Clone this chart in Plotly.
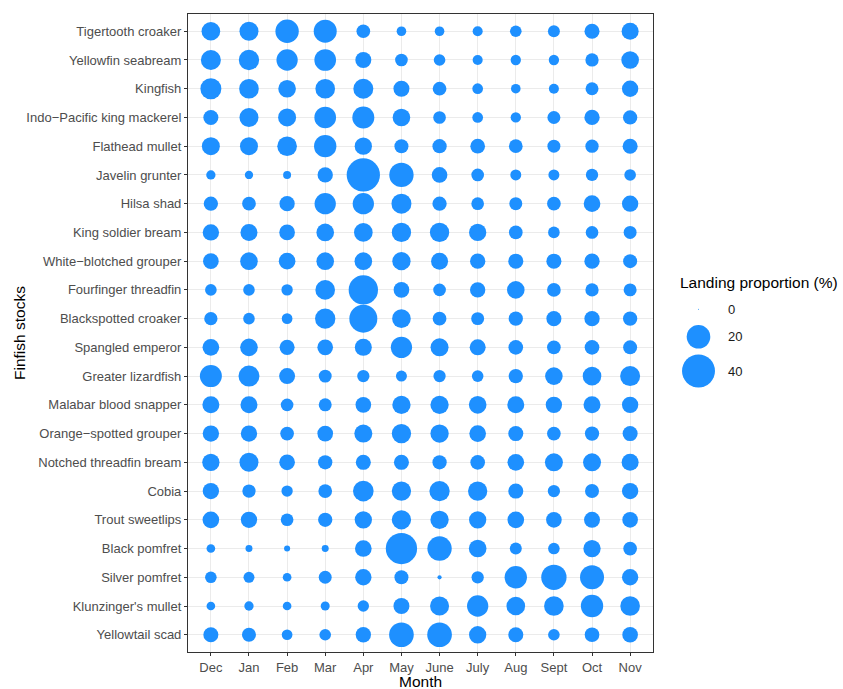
import math
import plotly.graph_objects as go

months = ["Dec", "Jan", "Feb", "Mar", "Apr", "May", "June", "July", "Aug", "Sept", "Oct", "Nov"]

species = [
    "Tigertooth croaker", "Yellowfin seabream", "Kingfish", "Indo−Pacific king mackerel",
    "Flathead mullet", "Javelin grunter", "Hilsa shad", "King soldier bream",
    "White−blotched grouper", "Fourfinger threadfin", "Blackspotted croaker", "Spangled emperor",
    "Greater lizardfish", "Malabar blood snapper", "Orange−spotted grouper", "Notched threadfin bream",
    "Cobia", "Trout sweetlips", "Black pomfret", "Silver pomfret", "Klunzinger's mullet", "Yellowtail scad",
]

tigertooth_croaker = [12.2, 12.7, 19.5, 18.9, 6.3, 2.9, 2.9, 3.2, 4.4, 4.7, 7.7, 10.0]
yellowfin_seabream = [14.1, 14.6, 16.1, 16.7, 8.8, 5.3, 4.4, 3.2, 3.4, 3.4, 5.9, 10.8]
kingfish = [15.6, 13.6, 10.8, 13.6, 14.1, 8.8, 6.3, 3.7, 2.9, 3.2, 5.6, 9.2]
indo_pacific_king_mackerel = [7.7, 12.7, 11.3, 16.7, 17.2, 10.8, 5.3, 3.7, 3.4, 5.6, 8.0, 6.9]
flathead_mullet = [11.3, 11.3, 13.6, 17.8, 10.4, 6.6, 6.9, 7.3, 6.3, 5.6, 5.9, 7.7]
javelin_grunter = [2.7, 2.1, 1.9, 8.0, 40.8, 21.3, 8.4, 5.3, 3.9, 3.9, 5.0, 4.4]
hilsa_shad = [6.9, 6.3, 8.0, 16.1, 16.1, 14.1, 6.9, 5.3, 5.6, 6.3, 9.6, 9.2]
king_soldier_bream = [9.2, 10.0, 8.4, 10.8, 12.2, 13.1, 13.1, 10.4, 6.3, 4.4, 5.3, 5.6]
white_blotched_grouper = [8.4, 10.8, 9.6, 10.8, 10.8, 11.7, 10.0, 8.0, 7.7, 7.7, 8.0, 6.6]
fourfinger_threadfin = [4.4, 4.4, 4.2, 13.6, 31.4, 8.4, 5.3, 8.0, 10.8, 6.3, 5.9, 5.6]
blackspotted_croaker = [5.9, 4.4, 3.7, 14.6, 28.5, 12.2, 6.3, 5.6, 6.9, 7.7, 8.0, 6.9]
spangled_emperor = [9.6, 10.8, 7.7, 8.4, 10.0, 16.1, 11.3, 8.8, 7.3, 6.3, 7.3, 6.6]
greater_lizardfish = [17.2, 15.6, 8.8, 5.6, 5.0, 3.9, 5.0, 4.4, 6.9, 10.8, 12.2, 14.1]
malabar_blood_snapper = [10.0, 10.0, 5.3, 5.6, 8.4, 11.7, 11.7, 10.8, 10.0, 9.2, 10.0, 9.2]
orange_spotted_grouper = [9.2, 9.2, 6.3, 8.4, 11.3, 13.1, 11.7, 9.6, 7.7, 6.3, 6.9, 7.7]
notched_threadfin_bream = [10.4, 12.7, 8.4, 6.9, 7.7, 7.7, 6.9, 7.3, 9.6, 11.3, 11.3, 10.0]
cobia = [9.2, 5.9, 4.2, 6.3, 15.1, 13.1, 14.6, 13.1, 7.7, 5.0, 6.6, 9.2]
trout_sweetlips = [9.6, 9.2, 5.3, 6.9, 10.4, 13.1, 11.7, 10.4, 9.6, 8.4, 8.8, 8.4]
black_pomfret = [2.3, 1.4, 1.0, 1.4, 9.6, 35.9, 21.3, 10.8, 4.7, 4.4, 10.4, 6.3]
silver_pomfret = [4.4, 3.9, 2.3, 5.6, 9.2, 6.6, 0.4, 5.0, 17.8, 23.1, 20.7, 9.2]
klunzingers_mullet = [2.3, 2.7, 2.3, 2.5, 4.2, 8.8, 12.7, 16.1, 12.2, 13.6, 17.8, 13.6]
yellowtail_scad = [7.7, 6.6, 3.7, 4.4, 8.0, 21.9, 21.9, 10.4, 7.7, 4.4, 7.3, 8.4]

series = [
    tigertooth_croaker, yellowfin_seabream, kingfish, indo_pacific_king_mackerel,
    flathead_mullet, javelin_grunter, hilsa_shad, king_soldier_bream,
    white_blotched_grouper, fourfinger_threadfin, blackspotted_croaker, spangled_emperor,
    greater_lizardfish, malabar_blood_snapper, orange_spotted_grouper, notched_threadfin_bream,
    cobia, trout_sweetlips, black_pomfret, silver_pomfret, klunzingers_mullet, yellowtail_scad,
]

legend_breaks = [0, 20, 40]

# size scale (ggplot-like: diameter linear in sqrt(value))
SMIN, SMAX, VMAX = 1.0, 33.3, 40.8


def size_of(v):
    return SMIN + (SMAX - SMIN) * math.sqrt(max(v, 0) / VMAX)


BLUE = "#1E90FF"
FONT = "Liberation Sans, Arial, sans-serif"

xs, ys, ss = [], [], []
for sp, vals in zip(species, series):
    for m, v in zip(months, vals):
        xs.append(m)
        ys.append(sp)
        ss.append(size_of(v))

W, H = 843, 689
ML, MR, MT, MB = 188, 0, 14, 37
plot_w = W - ML - MR
plot_h = H - MT - MB
panel_frac = (653 - 188) / plot_w
leg_frac0 = 0.72
leg_px0 = ML + leg_frac0 * plot_w


def px_x(px):
    return (px - ML) / plot_w


def px_y(py):
    return 1 - (py - MT) / plot_h


fig = go.Figure()
fig.add_trace(go.Scatter(
    x=xs, y=ys, mode="markers",
    marker=dict(size=ss, sizemode="diameter", color=BLUE, line=dict(width=0), opacity=1),
    hoverinfo="skip", showlegend=False, xaxis="x", yaxis="y",
))

# legend keys (drawn with the same size scale)
leg_x = 698.5
leg_y = [309.3, 336.8, 371.0]
fig.add_trace(go.Scatter(
    x=[leg_x] * len(legend_breaks), y=leg_y, mode="markers",
    marker=dict(size=[size_of(b) for b in legend_breaks], sizemode="diameter",
                color=BLUE, line=dict(width=0), opacity=1),
    hoverinfo="skip", showlegend=False, xaxis="x2", yaxis="y2",
))

annotations = []
for b, yy in zip(legend_breaks, leg_y):
    annotations.append(dict(
        x=726.0, y=yy, xref="x2", yref="y2", text=str(b), showarrow=False,
        xanchor="left", yanchor="middle", font=dict(family=FONT, size=13, color="#1A1A1A"),
    ))
annotations.append(dict(
    x=px_x(678.0), y=px_y(282.5), xref="paper", yref="paper", text="Landing proportion (%)",
    showarrow=False, xanchor="left", yanchor="middle",
    font=dict(family=FONT, size=15.5, color="#000000"),
))
annotations.append(dict(
    x=px_x((188 + 653) / 2), y=px_y(681.5), xref="paper", yref="paper", text="Month",
    showarrow=False, xanchor="center", yanchor="middle",
    font=dict(family=FONT, size=15.5, color="#000000"),
))
annotations.append(dict(
    x=px_x(19), y=px_y(333), xref="paper", yref="paper", text="Finfish stocks",
    showarrow=False, textangle=-90, xanchor="center", yanchor="middle",
    font=dict(family=FONT, size=15.5, color="#000000"),
))

axis_common = dict(
    showgrid=True, gridcolor="#EBEBEB", gridwidth=1.1,
    showline=True, mirror=True, linecolor="#333333", linewidth=1.1,
    ticks="outside", ticklen=3, tickwidth=1.1, tickcolor="#333333",
    tickfont=dict(family=FONT, size=13, color="#4D4D4D"),
    zeroline=False, fixedrange=True,
)

fig.update_layout(
    width=W, height=H,
    margin=dict(l=ML, r=MR, t=MT, b=MB, pad=0),
    paper_bgcolor="white", plot_bgcolor="white",
    font=dict(family=FONT),
    showlegend=False,
    hovermode=False,
    xaxis=dict(
        domain=[0, panel_frac], type="category", categoryorder="array", categoryarray=months,
        range=[-0.6, len(months) - 1 + 0.6], **axis_common,
    ),
    yaxis=dict(
        domain=[0, 1], type="category", categoryorder="array", categoryarray=species,
        range=[len(species) - 1 + 0.6, -0.6], **axis_common,
    ),
    xaxis2=dict(domain=[leg_frac0, 1], anchor="y2", range=[leg_px0, W], visible=False, fixedrange=True),
    yaxis2=dict(domain=[0, 1], anchor="x2", range=[H - MB, MT], visible=False, fixedrange=True),
    annotations=annotations,
)

fig.write_html("out.html", config={"displayModeBar": False})
